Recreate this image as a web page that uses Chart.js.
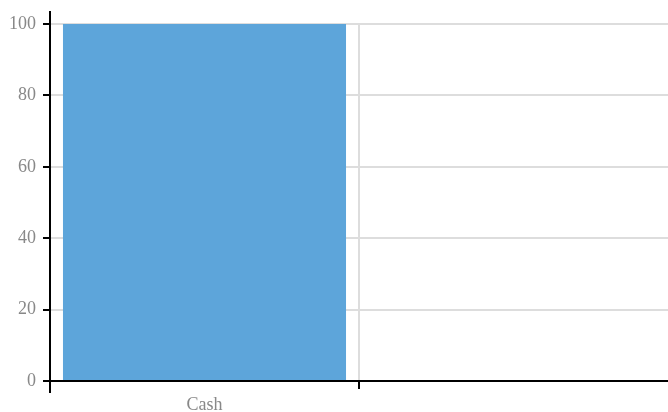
<!DOCTYPE html>
<html>
<head>
<meta charset="utf-8">
<script src="https://cdn.jsdelivr.net/npm/chart.js@4/dist/chart.umd.min.js"></script>
<style>
  html, body { margin: 0; padding: 0; background: #fff; }
  #wrap { width: 668px; height: 412px; }
</style>
</head>
<body>
<div id="wrap"><canvas id="c" width="668" height="412"></canvas></div>
<script>
const categories = ['Cash', ''];
const values = [100, 0];
const yTickValues = [0, 20, 40, 60, 80, 100];

const FAMILY = '"Liberation Serif", "Times New Roman", serif';
const TEXT = '#888888';

// extends the y axis line a little beyond the plot area (above the top and below the x axis)
const axisExtend = {
  id: 'axisExtend',
  afterDraw(chart) {
    const ctx = chart.ctx;
    const a = chart.chartArea;
    ctx.save();
    ctx.strokeStyle = '#000';
    ctx.lineWidth = 2;
    ctx.beginPath();
    ctx.moveTo(a.left, a.top - 13);
    ctx.lineTo(a.left, a.top);
    ctx.moveTo(a.left, a.bottom);
    ctx.lineTo(a.left, a.bottom + 12);
    ctx.stroke();
    ctx.restore();
  }
};

new Chart(document.getElementById('c'), {
  type: 'bar',
  data: {
    labels: categories,
    datasets: [{
      data: values,
      backgroundColor: '#5DA5DA',
      borderWidth: 0,
      barPercentage: 0.916,
      categoryPercentage: 1
    }]
  },
  options: {
    responsive: false,
    animation: false,
    devicePixelRatio: 1,
    layout: { padding: { top: 24, right: 0, left: 0, bottom: 0 } },
    plugins: { legend: { display: false }, tooltip: { enabled: false } },
    scales: {
      x: {
        offset: true,
        afterFit(scale) {
          scale.height = 31;
          scale.paddingLeft = 0;
          scale.paddingRight = 0;
        },
        grid: {
          offset: true,
          lineWidth: 2,
          color: (c) => c.index === 1 ? '#dddddd' : 'rgba(0,0,0,0)',
          tickColor: (c) => c.index === 1 ? '#000000' : 'rgba(0,0,0,0)',
          tickLength: 8,
          drawTicks: true
        },
        border: { display: true, color: '#000', width: 2 },
        ticks: { color: TEXT, font: { family: FAMILY, size: 18 }, padding: 5, maxRotation: 0 }
      },
      y: {
        min: 0,
        max: 100,
        afterBuildTicks(scale) {
          scale.ticks = yTickValues.map(v => ({ value: v }));
        },
        afterFit(scale) {
          scale.width = 50;
          scale.paddingTop = 0;
          scale.paddingBottom = 0;
        },
        grid: {
          lineWidth: 2,
          color: '#dddddd',
          tickColor: '#000000',
          tickLength: 7,
          drawTicks: true
        },
        border: { display: true, color: '#000', width: 2 },
        ticks: { color: TEXT, font: { family: FAMILY, size: 18 }, padding: 7 }
      }
    }
  },
  plugins: [axisExtend]
});
</script>
</body>
</html>
